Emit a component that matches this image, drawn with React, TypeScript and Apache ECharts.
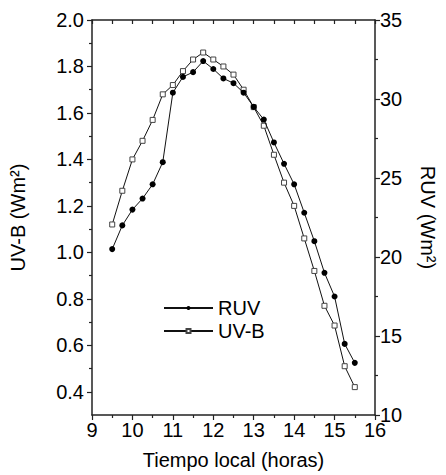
import React, { useEffect, useRef } from "react";
import * as echarts from "echarts";

// Local time (hours) of each measurement
const hours = [9.5, 9.75, 10, 10.25, 10.5, 10.75, 11, 11.25, 11.5, 11.75, 12, 12.25, 12.5, 12.75, 13, 13.25, 13.5, 13.75, 14, 14.25, 14.5, 14.75, 15, 15.25, 15.5];
// RUV irradiance (W m-2), right axis
const ruv = [20.5, 22.0, 23.0, 23.7, 24.6, 26.0, 30.4, 31.4, 31.7, 32.4, 31.9, 31.3, 31.0, 30.4, 29.5, 28.7, 27.25, 25.9, 24.6, 22.8, 21.0, 19.0, 17.5, 14.5, 13.3];
// UV-B irradiance (W m-2), left axis
const uvb = [1.12, 1.265, 1.4, 1.48, 1.57, 1.68, 1.72, 1.78, 1.83, 1.86, 1.83, 1.8, 1.765, 1.7, 1.625, 1.545, 1.42, 1.3, 1.2, 1.06, 0.92, 0.77, 0.685, 0.51, 0.42];

const uvbTicks = [0.4, 0.6, 0.8, 1.0, 1.2, 1.4, 1.6, 1.8, 2.0];
const uvbMinorTicks = [0.5, 0.7, 0.9, 1.1, 1.3, 1.5, 1.7, 1.9];

const FONT = "'Liberation Sans', Arial, Helvetica, sans-serif";
const AXIS = "#222";

export default function App() {
  const ref = useRef<HTMLDivElement>(null);

  useEffect(() => {
    if (!ref.current) return;
    const chart = echarts.init(ref.current, undefined, { renderer: "svg" });

    const axisLine = { show: true, lineStyle: { color: AXIS, width: 1.5 } };
    const labelStyle = { fontSize: 20, color: "#000", fontFamily: FONT };
    const nameStyle = { fontSize: 20, color: "#000", fontFamily: FONT };

    chart.setOption({
      animation: false,
      backgroundColor: "#fff",
      textStyle: { fontFamily: FONT },
      grid: { left: 92, right: 55, top: 20, bottom: 55, containLabel: false },
      legend: {
        data: ["RUV", "UV-B"],
        orient: "vertical",
        left: 163,
        top: 298,
        padding: 0,
        itemWidth: 49,
        itemHeight: 5,
        itemGap: 3,
        textStyle: { fontSize: 20, color: "#000", fontFamily: FONT },
      },
      xAxis: [
        {
          type: "value",
          position: "bottom",
          min: 9,
          max: 16,
          interval: 1,
          name: "Tiempo local (horas)",
          nameLocation: "middle",
          nameGap: 35,
          nameTextStyle: nameStyle,
          axisLine,
          axisTick: { show: true, inside: false, length: 5, lineStyle: { color: AXIS, width: 1.2 } },
          minorTick: { show: true, splitNumber: 2, length: 3, lineStyle: { color: AXIS, width: 1.2 } },
          axisLabel: { ...labelStyle, margin: 5 },
          splitLine: { show: false },
        },
        {
          type: "value",
          position: "top",
          min: 9,
          max: 16,
          interval: 0.5,
          axisLine,
          axisTick: { show: true, inside: true, length: 4, lineStyle: { color: AXIS, width: 1.2 } },
          axisLabel: { show: false },
          splitLine: { show: false },
        },
      ],
      yAxis: [
        {
          type: "value",
          position: "left",
          min: 0.3,
          max: 2.0,
          name: "UV-B (Wm²)",
          nameLocation: "middle",
          nameGap: 64,
          nameRotate: 90,
          nameTextStyle: nameStyle,
          axisLine,
          axisTick: { show: true, customValues: uvbTicks, length: 5, lineStyle: { color: AXIS, width: 1.2 } },
          axisLabel: {
            ...labelStyle,
            margin: 8,
            customValues: uvbTicks,
            formatter: (v: number) => v.toFixed(1),
          },
          splitLine: { show: false },
        },
        {
          type: "value",
          position: "left",
          min: 0.3,
          max: 2.0,
          axisLine: { show: false },
          axisTick: { show: true, customValues: uvbMinorTicks, length: 3, lineStyle: { color: AXIS, width: 1.2 } },
          axisLabel: { show: false },
          splitLine: { show: false },
        },
        {
          type: "value",
          position: "right",
          min: 10,
          max: 35,
          interval: 5,
          name: "RUV (Wm²)",
          nameLocation: "middle",
          nameGap: 43,
          nameRotate: -90,
          nameTextStyle: nameStyle,
          axisLine,
          axisTick: { show: true, inside: false, length: 5, lineStyle: { color: AXIS, width: 1.2 } },
          minorTick: { show: true, splitNumber: 2, length: 3, lineStyle: { color: AXIS, width: 1.2 } },
          axisLabel: { ...labelStyle, margin: 5 },
          splitLine: { show: false },
        },
      ],
      series: [
        {
          name: "UV-B",
          type: "line",
          xAxisIndex: 0,
          yAxisIndex: 0,
          data: hours.map((h, i) => [h, uvb[i]]),
          symbol: "rect",
          symbolSize: 5,
          itemStyle: { color: "#fff", borderColor: "#444", borderWidth: 1 },
          lineStyle: { color: "#111", width: 1 },
          z: 2,
        },
        {
          name: "RUV",
          type: "line",
          xAxisIndex: 0,
          yAxisIndex: 2,
          data: hours.map((h, i) => [h, ruv[i]]),
          symbol: "circle",
          symbolSize: 6,
          itemStyle: { color: "#000" },
          lineStyle: { color: "#111", width: 1 },
          z: 3,
        },
      ],
    });

    return () => chart.dispose();
  }, []);

  return (
    <div
      ref={ref}
      style={{ position: "absolute", left: 0, top: 0, width: 446, height: 475 }}
    />
  );
}
